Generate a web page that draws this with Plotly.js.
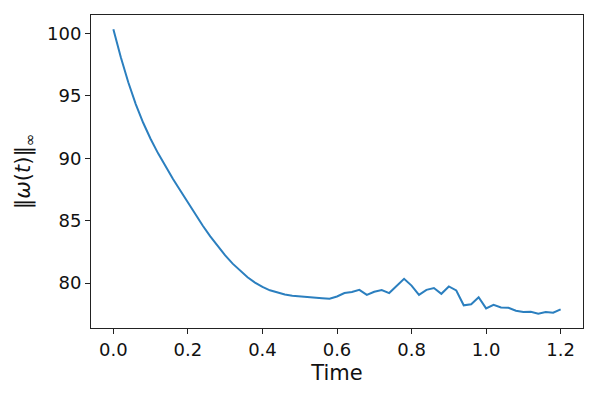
<!DOCTYPE html>
<html>
<head>
<meta charset="utf-8">
<script src="https://cdn.plot.ly/plotly-3.0.1.min.js"></script>
<style>
  body { margin: 0; background: #fff; }
  #plotArea { width: 598px; height: 399px; }
</style>
</head>
<body>
<div id="plotArea"></div>
<script>
// sup-norm of vorticity over time
var time = [];
for (var i = 0; i <= 60; i++) time.push(+(i * 0.02).toFixed(2));

var vortNorm = [
    100.35, 98.1, 96.1, 94.35, 92.85, 91.55, 90.4, 89.35, 88.35, 87.4,
    86.45, 85.5, 84.6, 83.75, 82.95, 82.22, 81.56, 80.98, 80.47, 80.04,
    79.69, 79.42, 79.22, 79.08, 78.99, 78.93, 78.89, 78.85, 78.79, 78.75,
    78.93, 79.2, 79.28, 79.46, 79.06, 79.3, 79.44, 79.2, 79.77, 80.34,
    79.8, 79.06, 79.46, 79.6, 79.14, 79.73, 79.41, 78.22, 78.3, 78.87,
    77.97, 78.26, 78.05, 78.02, 77.78, 77.68, 77.7, 77.54, 77.68, 77.62,
    77.9
];

var xTicks = [0, 0.2, 0.4, 0.6, 0.8, 1.0, 1.2];
var xTickText = ["0.0", "0.2", "0.4", "0.6", "0.8", "1.0", "1.2"];
var yTicks = [80, 85, 90, 95, 100];

var trace = {
    x: time,
    y: vortNorm,
    type: "scatter",
    mode: "lines",
    line: {color: "#2b7fbf", width: 2},
    hoverinfo: "skip"
};

var axisStyle = {
    showgrid: false,
    zeroline: false,
    showline: true,
    mirror: true,
    linecolor: "#222",
    linewidth: 1,
    ticks: "outside",
    ticklen: 5,
    tickwidth: 1,
    tickcolor: "#222",
    tickfont: {family: "DejaVu Sans", size: 18, color: "#111"}
};

var layout = {
    width: 598,
    height: 399,
    margin: {l: 91, r: 15, t: 15, b: 71},
    paper_bgcolor: "#fff",
    plot_bgcolor: "#fff",
    showlegend: false,
    xaxis: Object.assign({}, axisStyle, {
        range: [-0.06, 1.26],
        tickvals: xTicks,
        ticktext: xTickText,
        title: {text: "Time", font: {family: "DejaVu Sans", size: 21, color: "#111"}, standoff: 6}
    }),
    yaxis: Object.assign({}, axisStyle, {
        range: [76.40, 101.49],
        tickvals: yTicks,
        title: {text: "‖<i>ω</i>(<i>t</i>)‖<sub>∞</sub>", font: {family: "DejaVu Sans", size: 21, color: "#111"}, standoff: 10}
    })
};

Plotly.newPlot("plotArea", [trace], layout, {displayModeBar: false, staticPlot: true});
</script>
</body>
</html>
